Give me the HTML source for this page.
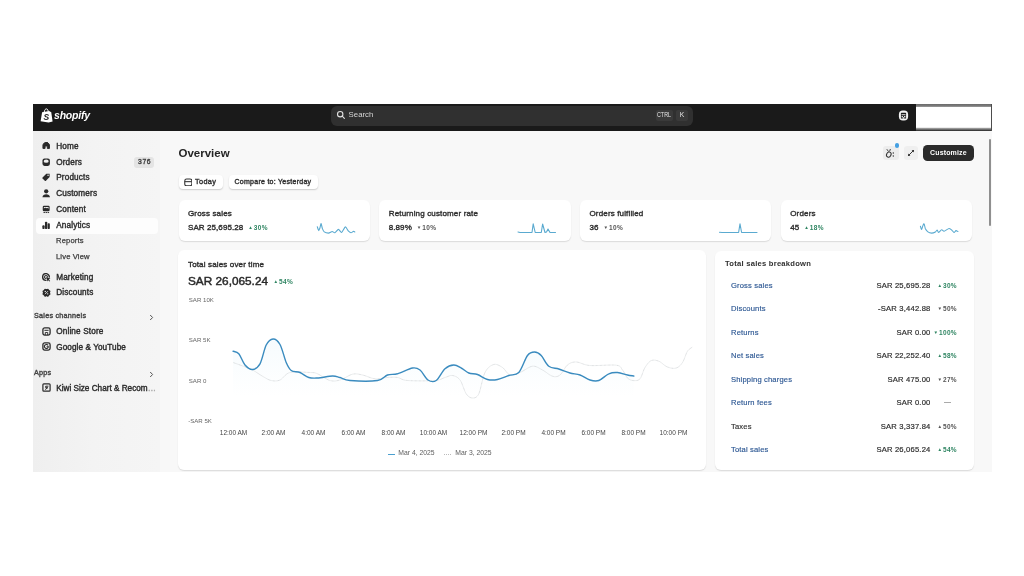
<!DOCTYPE html>
<html lang="en">
<head>
<meta charset="utf-8">
<title>Shopify Analytics Overview</title>
<style>
*{box-sizing:border-box;margin:0;padding:0}
html,body{width:1024px;height:576px;overflow:hidden;background:#fff}
body{font-family:"Liberation Sans",sans-serif;color:#303030;position:relative}
#app{position:absolute;left:33px;top:104px;width:959px;height:368px;background:#f8f8f8;overflow:hidden}
.abs{position:absolute}
.t{position:absolute;white-space:nowrap;line-height:1;font-size:8px;color:#303030;letter-spacing:.1px}
.sb{-webkit-text-stroke:.38px currentColor}
/* top bar */
#top{position:absolute;left:0;top:0;width:959px;height:27.3px;background:#1a1a1a}
#search{position:absolute;left:298px;top:1.7px;width:362px;height:20.8px;border-radius:6px;background:#303030}
.key{position:absolute;top:4.4px;height:11px;border-radius:2px;background:#3a3a3a}
#wbox{position:absolute;left:883px;top:0;width:76px;height:27px;background:linear-gradient(90deg,transparent 0,transparent 74.5px,#555 75px,#444 76px),linear-gradient(#6a6a6a 0,#808080 2.4px,#fff 3.2px,#fff 23.3px,#a0a0a0 24.3px,#555 26px,#222 27px)}
/* sidebar */
#side{position:absolute;left:0;top:27.3px;width:127px;height:340.7px;background:linear-gradient(90deg,#efefef 0,#f3f3f3 60px,#f5f5f5 127px)}
#sel{position:absolute;left:3px;top:86.5px;width:121.5px;height:16.5px;border-radius:4px;background:#fdfdfd}
.nav{left:23.2px;font-size:8.2px;letter-spacing:.15px;color:#2b2b2b}
.sub{left:23px;font-size:7.6px;color:#3c3c3c;-webkit-text-stroke:.25px #3c3c3c;letter-spacing:.15px}
.sec{left:1px;font-size:7.2px;color:#444;letter-spacing:.25px}
.ico{position:absolute;left:9.2px;width:8.4px;height:8.4px;}
/* main */
.card{position:absolute;background:#fff;border-radius:6px;box-shadow:0 1px 1.2px rgba(0,0,0,.12)}
.btn{position:absolute;background:#fff;border-radius:4px;box-shadow:0 1px 1.5px rgba(0,0,0,.18)}
.lbl{font-size:8px;letter-spacing:.15px;color:#303030}
.val{font-size:8px;letter-spacing:.08px;color:#303030}
.chg{font-size:6.5px;font-weight:700;letter-spacing:.35px}
.g{color:#2f8562}
.d{color:#555}
.ax{font-size:6.1px;color:#666;letter-spacing:0}
.lnk{font-size:7.6px;color:#2c5793;letter-spacing:.15px}
.rv{font-size:7.6px;color:#2e2e2e;letter-spacing:.2px;text-align:right;-webkit-text-stroke:.2px #2e2e2e}
</style>
</head>
<body>
<div id="app">

<!-- TOPBAR -->
<div id="top">
  <svg class="abs" style="left:7px;top:3.5px" width="13" height="16" viewBox="0 0 13 16">
    <path d="M2.1 4.3 L9.2 2.9 L10.2 3.8 L11.2 3.9 L12.6 13.6 L8.6 14.6 L0.6 13.2 Z" fill="#fff"/>
    <path d="M4.2 4.2 C4.4 1.9 5.6 .7 6.6 .9 C7.7 1.1 8.2 2.6 8.3 3.9" fill="none" stroke="#fff" stroke-width="1"/>
    <text x="3.6" y="11.6" font-family="Liberation Sans, sans-serif" font-size="8.5" font-weight="700" font-style="italic" fill="#1a1a1a">S</text>
  </svg>
  <div class="t" style="left:21px;top:6px;font-size:10.5px;font-weight:700;font-style:italic;color:#fff;letter-spacing:-.2px">shopify</div>
  <div id="search">
    <svg class="abs" style="left:5.4px;top:4.3px" width="10" height="10" viewBox="0 0 10 10"><circle cx="4.2" cy="4.2" r="2.7" fill="none" stroke="#e0e0e0" stroke-width="1.1"/><path d="M6.2 6.2 L8.4 8.4" stroke="#e0e0e0" stroke-width="1.1" stroke-linecap="round"/></svg>
    <div class="t" style="left:17.6px;top:5.7px;font-size:7.8px;color:#d6d6d6;letter-spacing:0">Search</div>
    <div class="key" style="left:325px;width:17px"></div>
    <div class="key" style="left:345px;width:12px"></div>
    <div class="t" style="left:326.2px;top:6.3px;font-size:6.7px;color:#e6e6e6;letter-spacing:0;transform:scaleX(.8);transform-origin:0 0">CTRL</div>
    <div class="t" style="left:348.8px;top:6.3px;font-size:6.7px;color:#e6e6e6;letter-spacing:0">K</div>
  </div>
  <svg class="abs" style="left:865px;top:6.4px" width="11" height="11" viewBox="0 0 11 11"><rect x=".9" y=".6" width="9.2" height="9.8" rx="4" fill="#f4f4f4"/><path d="M2.9 3.4 Q2.9 2.8 3.5 2.8 H7.5 Q8.1 2.8 8.1 3.4 V8.6 H2.9 Z" fill="#1a1a1a"/><rect x="3.5" y="4.3" width="4" height=".9" fill="#f4f4f4"/><rect x="3.6" y="6" width="1.3" height="1.4" fill="#f4f4f4"/><rect x="6.1" y="6" width="1.3" height="1.4" fill="#f4f4f4"/><rect x="4.9" y="7.2" width="1.2" height="1.4" fill="#f4f4f4"/></svg>
  <div id="wbox"></div>
</div>

<!-- SIDEBAR -->
<div id="side">
  <!--SIDE-->
  <div id="sel"></div>
  <svg class="ico" style="top:11.10px" viewBox="0 0 9 9"><path d="M4.5 .9 C5 .9 8 3 8 4.3 V8 H5.7 V6.2 C5.7 5 3.3 5 3.3 6.2 V8 H1 V4.3 C1 3 4 .9 4.5 .9 Z" fill="#2a2a2a" stroke="#2a2a2a" stroke-width="1" stroke-linejoin="round" transform="translate(0 -1.1)"/></svg>
  <div class="t sb nav" style="top:12.00px;">Home</div>
  <svg class="ico" style="top:26.35px" viewBox="0 0 9 9"><rect x=".5" y=".5" width="8" height="8" rx="2.2" fill="#2a2a2a"/><ellipse cx="4.5" cy="3.4" rx="2.7" ry="1.8" fill="#f0f0f0"/></svg>
  <div class="t sb nav" style="top:27.25px;">Orders</div>
  <svg class="ico" style="top:42.10px" viewBox="0 0 9 9"><path d="M4.6 .8 H8.2 V4.4 L4.2 8.4 Q3.6 8.9 3 8.4 L.6 6 Q.1 5.4 .6 4.8 Z" fill="#2a2a2a"/><circle cx="6.5" cy="2.5" r=".8" fill="#f0f0f0"/></svg>
  <div class="t sb nav" style="top:43.00px;">Products</div>
  <svg class="ico" style="top:58.10px" viewBox="0 0 9 9"><circle cx="4.5" cy="2.5" r="2.3" fill="#2a2a2a"/><path d="M.5 8.8 C.5 4.6 8.5 4.6 8.5 8.8 Z" fill="#2a2a2a"/></svg>
  <div class="t sb nav" style="top:59.00px;">Customers</div>
  <svg class="ico" style="top:73.85px" viewBox="0 0 9 9"><rect x=".8" y=".9" width="7.4" height="5.8" rx="1.3" fill="#2a2a2a"/><path d="M2 3.8 L3.4 2.6 L4.6 3.6 L5.6 2.9 L7 4 V2.2 H2 Z" fill="#f0f0f0"/><rect x="1.6" y="7.6" width="1.6" height="1" fill="#2a2a2a"/><rect x="3.8" y="7.6" width="1.6" height="1" fill="#2a2a2a"/><rect x="6" y="7.6" width="1.6" height="1" fill="#2a2a2a"/></svg>
  <div class="t sb nav" style="top:74.75px;">Content</div>
  <svg class="ico" style="top:89.35px" viewBox="0 0 9 9"><rect x=".4" y="4.6" width="2.4" height="4" rx=".9" fill="#2a2a2a"/><rect x="3.2" y=".8" width="2.4" height="7.8" rx=".9" fill="#2a2a2a"/><rect x="6" y="2.4" width="2.4" height="6.2" rx=".9" fill="#2a2a2a"/></svg>
  <div class="t sb nav" style="top:90.25px;">Analytics</div>
  <div class="t sub" style="top:106.20px">Reports</div>
  <div class="t sub" style="top:121.45px">Live View</div>
  <svg class="ico" style="top:141.85px" viewBox="0 0 9 9"><path d="M7.9 4.3 A3.6 3.6 0 1 0 4.3 7.9" fill="none" stroke="#2a2a2a" stroke-width="1.5" stroke-linecap="round"/><path d="M5.9 4.2 A1.6 1.6 0 1 0 4.2 5.9" fill="none" stroke="#2a2a2a" stroke-width="1.2" stroke-linecap="round"/><path d="M4.4 4.4 L9 6 L7.3 7 L8.8 8.6 L8 9.2 L6.7 7.7 L5.9 9.2 Z" fill="#2a2a2a"/></svg>
  <div class="t sb nav" style="top:142.75px;">Marketing</div>
  <svg class="ico" style="top:157.10px" viewBox="0 0 9 9"><g transform="translate(.3 .5)"><circle cx="4.5" cy="4.5" r="3.9" fill="#2a2a2a"/><circle cx="7.83" cy="5.88" r=".95" fill="#2a2a2a"/><circle cx="5.88" cy="7.83" r=".95" fill="#2a2a2a"/><circle cx="3.12" cy="7.83" r=".95" fill="#2a2a2a"/><circle cx="1.17" cy="5.88" r=".95" fill="#2a2a2a"/><circle cx="1.17" cy="3.12" r=".95" fill="#2a2a2a"/><circle cx="3.12" cy="1.17" r=".95" fill="#2a2a2a"/><circle cx="5.88" cy="1.17" r=".95" fill="#2a2a2a"/><circle cx="7.83" cy="3.12" r=".95" fill="#2a2a2a"/><path d="M3.2 5.8 L5.8 3.2" stroke="#f0f0f0" stroke-width=".9" stroke-linecap="round"/><circle cx="3.2" cy="3.3" r=".75" fill="#f0f0f0"/><circle cx="5.8" cy="5.8" r=".75" fill="#f0f0f0"/></g></svg>
  <div class="t sb nav" style="top:158.00px;">Discounts</div>
  <div class="t sb sec" style="top:181.00px">Sales channels</div>
  <svg class="abs" style="left:116px;top:182.60px" width="5" height="7" viewBox="0 0 5 7"><path d="M1.2 1 L3.6 3.5 L1.2 6" fill="none" stroke="#555" stroke-width="1"/></svg>
  <svg class="ico" style="top:195.35px;left:8.6px;width:9px;height:9px" viewBox="0 0 9 9"><rect x=".9" y=".9" width="7.2" height="7.2" rx="1.8" fill="none" stroke="#2a2a2a" stroke-width="1.3"/><path d="M2.4 3.3 H6.6" stroke="#2a2a2a" stroke-width="1"/><path d="M3.3 8 V5.5 H5.7 V8" fill="none" stroke="#2a2a2a" stroke-width=".9"/></svg>
  <div class="t sb nav" style="top:196.75px;">Online Store</div>
  <svg class="ico" style="top:210.85px;left:8.6px;width:9px;height:9px" viewBox="0 0 9 9"><rect x=".9" y=".9" width="7.2" height="7.2" rx="1.8" fill="none" stroke="#2a2a2a" stroke-width="1.3"/><path d="M6.1 3.4 A2 2 0 1 0 6.4 4.7 H4.6" fill="none" stroke="#2a2a2a" stroke-width="1.1"/></svg>
  <div class="t sb nav" style="top:212.25px;letter-spacing:.08px">Google &amp; YouTube</div>
  <div class="t sb sec" style="top:237.75px">Apps</div>
  <svg class="abs" style="left:116px;top:239.35px" width="5" height="7" viewBox="0 0 5 7"><path d="M1.2 1 L3.6 3.5 L1.2 6" fill="none" stroke="#555" stroke-width="1"/></svg>
  <svg class="ico" style="top:252.10px;left:8.6px;width:9px;height:9px" viewBox="0 0 9 9"><rect x=".9" y=".9" width="7.2" height="7.2" rx=".9" fill="none" stroke="#2a2a2a" stroke-width="1.2"/><path d="M6.4 3.2 H3.7 V4.7 H5.8 L3.2 6.5" fill="none" stroke="#2a2a2a" stroke-width="1"/></svg>
  <div class="t sb nav" style="top:253.50px;letter-spacing:0">Kiwi Size Chart &amp; Recom<span style="color:#aaa">…</span></div>
  <div class="abs" style="left:101px;top:25.3px;width:20px;height:11px;border-radius:3px;background:#e4e4e4"></div>
  <div class="t sb" style="left:105px;top:27.9px;font-size:6.8px;letter-spacing:.6px;color:#444">376</div>
  <!--/SIDE-->
</div>

<!-- MAIN -->
<div id="main">
  <!--MAIN-->
  <div class="t" style="left:145.5px;top:43.6px;font-size:11.5px;font-weight:700;letter-spacing:0;color:#252525">Overview</div>
  <div class="abs" style="left:850px;top:41.5px;width:16px;height:14.5px;border-radius:3px;background:#ededed"></div>
  <div class="abs" style="left:870.5px;top:41.5px;width:14.5px;height:14.5px;border-radius:3px;background:#efefef"></div>
  <svg class="abs" style="left:852px;top:43.5px" width="11" height="11" viewBox="0 0 11 11"><path d="M1.8 1.2 L3.6 3.6 M5.4 1 L4.6 3.4" stroke="#333" stroke-width=".9" fill="none"/><ellipse cx="3.8" cy="6.6" rx="2.2" ry="2.7" transform="rotate(25 3.8 6.6)" fill="none" stroke="#333" stroke-width="1"/><circle cx="8.3" cy="5" r=".7" fill="#333"/><circle cx="8.3" cy="8" r=".7" fill="#333"/></svg>
  <div class="abs" style="left:861.6px;top:39.2px;width:4.7px;height:4.7px;border-radius:50%;background:#45a0e2"></div>
  <svg class="abs" style="left:872.5px;top:43.5px" width="10" height="10" viewBox="0 0 10 10"><path d="M2.2 7.8 L7.8 2.2" stroke="#333" stroke-width="1"/><path d="M5.6 2 H8 V4.4 Z M2 5.6 V8 H4.4 Z" fill="#333"/></svg>
  <div class="abs" style="left:889.5px;top:41px;width:51.5px;height:15.5px;border-radius:4.5px;background:#2b2b2b"></div>
  <div class="t" style="left:897px;top:45.3px;font-size:7px;font-weight:700;color:#fff;letter-spacing:.15px">Customize</div>
  <div class="btn" style="left:145.5px;top:71.2px;width:44px;height:13.4px"></div>
  <svg class="abs" style="left:150.6px;top:73.6px" width="8.6" height="8.6" viewBox="0 0 8 8"><rect x=".7" y=".9" width="6.6" height="6.4" rx="1.8" fill="none" stroke="#333" stroke-width="1"/><path d="M.7 3.4 H7.3" stroke="#333" stroke-width="1"/></svg>
  <div class="t sb" style="left:162px;top:73.8px;font-size:7.3px;letter-spacing:.35px">Today</div>
  <div class="btn" style="left:196px;top:71.2px;width:88.5px;height:13.4px"></div>
  <div class="t sb" style="left:201.5px;top:73.8px;font-size:7px;letter-spacing:.27px">Compare to: Yesterday</div>
  <div class="card" style="left:145.5px;top:96px;width:191.25px;height:40.5px"></div>
  <div class="t sb lbl" style="left:155.0px;top:105.5px">Gross sales</div>
  <div class="t val" style="left:155.0px;top:119.5px"><span class="sb">SAR 25,695.28</span><span class="chg g" style="margin-left:5px"><span style="font-size:4.6px;vertical-align:.6px;margin-right:.6px">▲</span>30%</span></div>
  <div class="card" style="left:346.25px;top:96px;width:191.25px;height:40.5px"></div>
  <div class="t sb lbl" style="left:355.75px;top:105.5px">Returning customer rate</div>
  <div class="t val" style="left:355.75px;top:119.5px"><span class="sb">8.89%</span><span class="chg d" style="margin-left:5px"><span style="font-size:4.6px;vertical-align:.6px;margin-right:.6px">▼</span>10%</span></div>
  <div class="card" style="left:547px;top:96px;width:191.25px;height:40.5px"></div>
  <div class="t sb lbl" style="left:556.5px;top:105.5px">Orders fulfilled</div>
  <div class="t val" style="left:556.5px;top:119.5px"><span class="sb">36</span><span class="chg d" style="margin-left:5px"><span style="font-size:4.6px;vertical-align:.6px;margin-right:.6px">▼</span>10%</span></div>
  <div class="card" style="left:747.75px;top:96px;width:191.25px;height:40.5px"></div>
  <div class="t sb lbl" style="left:757.25px;top:105.5px">Orders</div>
  <div class="t val" style="left:757.25px;top:119.5px"><span class="sb">45</span><span class="chg g" style="margin-left:5px"><span style="font-size:4.6px;vertical-align:.6px;margin-right:.6px">▲</span>18%</span></div>
  <div class="card" style="left:145px;top:146px;width:527.6px;height:220px"></div>
  <div class="t sb lbl" style="left:155px;top:157px">Total sales over time</div>
  <div class="t" style="left:155px;top:171.5px;font-size:11.8px;letter-spacing:0;-webkit-text-stroke:.45px #2a2a2a;color:#2a2a2a">SAR 26,065.24</div>
  <div class="t chg g" style="left:240.5px;top:174.5px"><span style="font-size:4.6px;vertical-align:.6px;margin-right:.6px">▲</span>54%</div>
  <div class="t ax" style="left:155.8px;top:192.50px">SAR 10K</div>
  <div class="t ax" style="left:155.8px;top:232.50px">SAR 5K</div>
  <div class="t ax" style="left:155.8px;top:273.50px">SAR 0</div>
  <div class="t ax" style="left:155.2px;top:313.75px">-SAR 5K</div>
  <div class="t ax" style="left:170.5px;width:60px;text-align:center;top:325.70px;font-size:6.5px;color:#454545">12:00 AM</div>
  <div class="t ax" style="left:210.5px;width:60px;text-align:center;top:325.70px;font-size:6.5px;color:#454545">2:00 AM</div>
  <div class="t ax" style="left:250.5px;width:60px;text-align:center;top:325.70px;font-size:6.5px;color:#454545">4:00 AM</div>
  <div class="t ax" style="left:290.5px;width:60px;text-align:center;top:325.70px;font-size:6.5px;color:#454545">6:00 AM</div>
  <div class="t ax" style="left:330.5px;width:60px;text-align:center;top:325.70px;font-size:6.5px;color:#454545">8:00 AM</div>
  <div class="t ax" style="left:370.5px;width:60px;text-align:center;top:325.70px;font-size:6.5px;color:#454545">10:00 AM</div>
  <div class="t ax" style="left:410.5px;width:60px;text-align:center;top:325.70px;font-size:6.5px;color:#454545">12:00 PM</div>
  <div class="t ax" style="left:450.5px;width:60px;text-align:center;top:325.70px;font-size:6.5px;color:#454545">2:00 PM</div>
  <div class="t ax" style="left:490.5px;width:60px;text-align:center;top:325.70px;font-size:6.5px;color:#454545">4:00 PM</div>
  <div class="t ax" style="left:530.5px;width:60px;text-align:center;top:325.70px;font-size:6.5px;color:#454545">6:00 PM</div>
  <div class="t ax" style="left:570.5px;width:60px;text-align:center;top:325.70px;font-size:6.5px;color:#454545">8:00 PM</div>
  <div class="t ax" style="left:610.5px;width:60px;text-align:center;top:325.70px;font-size:6.5px;color:#454545">10:00 PM</div>
  <div class="abs" style="left:354.8px;top:349.5px;width:7px;height:1.3px;background:#4b9fcf"></div>
  <div class="t ax" style="left:365.3px;top:346.2px;font-size:6.8px;color:#606060">Mar 4, 2025</div>
  <div class="abs" style="left:411.4px;top:349.6px;width:7px;height:0;border-top:1px dotted #bbb"></div>
  <div class="t ax" style="left:422.3px;top:346.2px;font-size:6.8px;color:#606060">Mar 3, 2025</div>
  <div class="card" style="left:682px;top:146.5px;width:258.75px;height:219.5px"></div>
  <div class="t lbl" style="left:692px;top:156.4px;font-weight:700;font-size:7.6px;letter-spacing:.25px">Total sales breakdown</div>
  <div class="t lnk" style="left:698px;top:177.50px;-webkit-text-stroke:.15px currentColor">Gross sales</div>
  <div class="t rv" style="left:797.5px;width:100px;top:177.50px">SAR 25,695.28</div>
  <div class="t chg g" style="left:874px;width:50px;text-align:right;top:178.50px"><span style="font-size:4.6px;vertical-align:.6px;margin-right:.6px">▲</span>30%</div>
  <div class="t lnk" style="left:698px;top:201.00px;-webkit-text-stroke:.15px currentColor">Discounts</div>
  <div class="t rv" style="left:797.5px;width:100px;top:201.00px">-SAR 3,442.88</div>
  <div class="t chg d" style="left:874px;width:50px;text-align:right;top:202.00px"><span style="font-size:4.6px;vertical-align:.6px;margin-right:.6px">▼</span>50%</div>
  <div class="t lnk" style="left:698px;top:224.50px;-webkit-text-stroke:.15px currentColor">Returns</div>
  <div class="t rv" style="left:797.5px;width:100px;top:224.50px">SAR 0.00</div>
  <div class="t chg g" style="left:874px;width:50px;text-align:right;top:225.50px"><span style="font-size:4.6px;vertical-align:.6px;margin-right:.6px">▼</span>100%</div>
  <div class="t lnk" style="left:698px;top:248.00px;-webkit-text-stroke:.15px currentColor">Net sales</div>
  <div class="t rv" style="left:797.5px;width:100px;top:248.00px">SAR 22,252.40</div>
  <div class="t chg g" style="left:874px;width:50px;text-align:right;top:249.00px"><span style="font-size:4.6px;vertical-align:.6px;margin-right:.6px">▲</span>58%</div>
  <div class="t lnk" style="left:698px;top:271.50px;-webkit-text-stroke:.15px currentColor">Shipping charges</div>
  <div class="t rv" style="left:797.5px;width:100px;top:271.50px">SAR 475.00</div>
  <div class="t chg d" style="left:874px;width:50px;text-align:right;top:272.50px"><span style="font-size:4.6px;vertical-align:.6px;margin-right:.6px">▼</span>27%</div>
  <div class="t lnk" style="left:698px;top:294.50px;-webkit-text-stroke:.15px currentColor">Return fees</div>
  <div class="t rv" style="left:797.5px;width:100px;top:294.50px">SAR 0.00</div>
  <div class="abs" style="left:911px;top:297.70px;width:6.5px;height:1px;background:#aaa"></div>
  <div class="t lnk" style="left:698px;top:318.50px;color:#303030;-webkit-text-stroke:.15px currentColor">Taxes</div>
  <div class="t rv" style="left:797.5px;width:100px;top:318.50px">SAR 3,337.84</div>
  <div class="t chg d" style="left:874px;width:50px;text-align:right;top:319.50px"><span style="font-size:4.6px;vertical-align:.6px;margin-right:.6px">▲</span>50%</div>
  <div class="t lnk" style="left:698px;top:341.50px;-webkit-text-stroke:.15px currentColor">Total sales</div>
  <div class="t rv" style="left:797.5px;width:100px;top:341.50px">SAR 26,065.24</div>
  <div class="t chg g" style="left:874px;width:50px;text-align:right;top:342.50px"><span style="font-size:4.6px;vertical-align:.6px;margin-right:.6px">▲</span>54%</div>
  <svg class="abs" style="left:0;top:0" width="959" height="368" viewBox="33 104 959 368"><defs><linearGradient id="ga" x1="0" y1="0" x2="0" y2="1"><stop offset="0" stop-color="#bfe3f5" stop-opacity=".14"/><stop offset="1" stop-color="#bfe3f5" stop-opacity="0"/></linearGradient></defs><path d="M233.0 351.2C234.0 351.7 236.8 351.5 238.8 353.8C240.8 356.0 242.7 362.4 245.0 365.0C247.3 367.6 250.0 369.7 252.5 369.5C255.0 369.3 257.7 367.8 260.0 363.8C262.3 359.7 264.1 349.1 266.2 345.0C268.4 340.9 270.7 339.1 273.0 339.0C275.3 338.9 277.8 340.6 280.0 344.5C282.2 348.4 284.4 358.2 286.2 362.5C288.1 366.8 289.0 368.8 291.2 370.5C293.5 372.2 297.1 371.3 300.0 372.5C302.9 373.7 305.8 376.6 308.8 377.5C311.7 378.4 313.5 378.2 317.5 378.0C321.5 377.8 328.8 376.1 332.5 376.0C336.2 375.9 337.1 376.8 340.0 377.5C342.9 378.2 343.8 380.0 350.0 380.5C356.2 381.0 371.2 381.4 377.5 380.5C383.8 379.6 384.2 376.1 387.5 375.0C390.8 373.9 393.3 374.9 397.5 373.8C401.7 372.6 408.8 368.6 412.5 368.0C416.2 367.4 417.4 368.0 420.0 370.0C422.6 372.0 425.3 378.2 428.0 380.0C430.7 381.8 433.4 382.4 436.2 380.5C439.1 378.6 442.1 371.3 445.0 368.8C447.9 366.2 451.0 365.1 453.8 365.0C456.5 364.9 458.8 366.7 461.2 368.0C463.8 369.3 466.0 371.9 468.8 373.0C471.5 374.1 474.4 373.4 477.5 374.5C480.6 375.6 484.2 378.7 487.5 379.5C490.8 380.3 494.0 380.2 497.5 379.5C501.0 378.8 505.2 376.7 508.8 375.5C512.3 374.3 515.6 375.8 518.8 372.5C521.9 369.2 524.9 358.9 527.5 355.5C530.1 352.1 532.2 352.0 534.5 352.0C536.8 352.0 538.9 353.1 541.2 355.5C543.6 357.9 545.8 364.0 548.8 366.2C551.7 368.5 555.2 367.9 558.8 369.0C562.3 370.1 566.5 372.0 570.0 373.0C573.5 374.0 576.7 373.8 580.0 375.0C583.3 376.2 586.9 379.1 590.0 380.0C593.1 380.9 595.6 381.5 598.8 380.5C601.9 379.5 605.6 375.1 608.8 373.8C611.9 372.4 614.4 372.3 617.5 372.5C620.6 372.7 624.8 374.4 627.5 375.0C630.2 375.6 632.7 375.8 633.8 376.0L633.75 396 L233 396Z" fill="url(#ga)"/><path d="M233.0 362.5C234.2 362.9 236.8 363.8 240.0 365.0C243.2 366.2 248.8 368.1 252.5 370.0C256.2 371.9 259.4 374.5 262.5 376.2C265.6 378.0 268.3 379.9 271.2 380.5C274.2 381.1 276.9 381.3 280.0 380.0C283.1 378.7 285.0 373.8 290.0 372.5C295.0 371.2 305.4 372.3 310.0 372.5C314.6 372.7 314.2 372.4 317.5 373.8C320.8 375.1 326.2 379.5 330.0 380.5C333.8 381.5 336.2 381.0 340.0 380.0C343.8 379.0 348.8 375.1 352.5 374.2C356.2 373.4 358.8 374.2 362.5 375.0C366.2 375.8 370.8 378.3 375.0 378.8C379.2 379.2 383.8 377.7 387.5 377.5C391.2 377.3 394.2 377.0 397.5 377.5C400.8 378.0 401.2 380.0 407.5 380.5C413.8 381.0 428.8 381.0 435.0 380.5C441.2 380.0 442.1 378.3 445.0 377.5C447.9 376.7 450.0 375.1 452.5 375.5C455.0 375.9 457.7 377.0 460.0 380.0C462.3 383.0 464.2 390.8 466.2 393.8C468.3 396.8 470.4 398.0 472.5 398.0C474.6 398.0 476.7 398.0 478.8 393.8C480.8 389.5 482.5 377.4 485.0 372.5C487.5 367.6 490.8 365.3 493.8 364.5C496.7 363.7 499.8 365.8 502.5 367.5C505.2 369.2 507.1 374.2 510.0 375.0C512.9 375.8 516.2 374.0 520.0 372.5C523.8 371.0 528.8 366.7 532.5 366.2C536.2 365.8 539.2 368.3 542.5 370.0C545.8 371.7 549.6 375.4 552.5 376.2C555.4 377.1 557.5 376.9 560.0 375.0C562.5 373.1 564.8 367.2 567.5 365.0C570.2 362.8 572.5 361.9 576.2 362.0C580.0 362.1 583.3 365.0 590.0 365.5C596.7 366.0 610.8 364.5 616.2 365.2C621.7 366.0 620.6 367.9 622.5 370.0C624.4 372.1 625.6 376.2 627.5 378.0C629.4 379.8 631.7 380.5 633.8 380.6C635.8 380.7 638.1 380.9 640.0 378.8C641.9 376.6 643.1 370.5 645.0 367.5C646.9 364.5 649.0 361.6 651.2 360.6C653.5 359.6 656.0 360.2 658.8 361.2C661.5 362.3 664.6 365.9 667.5 367.0C670.4 368.1 673.8 368.8 676.2 368.0C678.8 367.2 680.6 365.3 682.5 362.5C684.4 359.7 685.8 353.8 687.5 351.2C689.2 348.7 691.7 347.7 692.5 347.0" fill="none" stroke="#d3d6d8" stroke-width=".9" stroke-dasharray=".8 .5"/><path d="M233.0 351.2C234.0 351.7 236.8 351.5 238.8 353.8C240.8 356.0 242.7 362.4 245.0 365.0C247.3 367.6 250.0 369.7 252.5 369.5C255.0 369.3 257.7 367.8 260.0 363.8C262.3 359.7 264.1 349.1 266.2 345.0C268.4 340.9 270.7 339.1 273.0 339.0C275.3 338.9 277.8 340.6 280.0 344.5C282.2 348.4 284.4 358.2 286.2 362.5C288.1 366.8 289.0 368.8 291.2 370.5C293.5 372.2 297.1 371.3 300.0 372.5C302.9 373.7 305.8 376.6 308.8 377.5C311.7 378.4 313.5 378.2 317.5 378.0C321.5 377.8 328.8 376.1 332.5 376.0C336.2 375.9 337.1 376.8 340.0 377.5C342.9 378.2 343.8 380.0 350.0 380.5C356.2 381.0 371.2 381.4 377.5 380.5C383.8 379.6 384.2 376.1 387.5 375.0C390.8 373.9 393.3 374.9 397.5 373.8C401.7 372.6 408.8 368.6 412.5 368.0C416.2 367.4 417.4 368.0 420.0 370.0C422.6 372.0 425.3 378.2 428.0 380.0C430.7 381.8 433.4 382.4 436.2 380.5C439.1 378.6 442.1 371.3 445.0 368.8C447.9 366.2 451.0 365.1 453.8 365.0C456.5 364.9 458.8 366.7 461.2 368.0C463.8 369.3 466.0 371.9 468.8 373.0C471.5 374.1 474.4 373.4 477.5 374.5C480.6 375.6 484.2 378.7 487.5 379.5C490.8 380.3 494.0 380.2 497.5 379.5C501.0 378.8 505.2 376.7 508.8 375.5C512.3 374.3 515.6 375.8 518.8 372.5C521.9 369.2 524.9 358.9 527.5 355.5C530.1 352.1 532.2 352.0 534.5 352.0C536.8 352.0 538.9 353.1 541.2 355.5C543.6 357.9 545.8 364.0 548.8 366.2C551.7 368.5 555.2 367.9 558.8 369.0C562.3 370.1 566.5 372.0 570.0 373.0C573.5 374.0 576.7 373.8 580.0 375.0C583.3 376.2 586.9 379.1 590.0 380.0C593.1 380.9 595.6 381.5 598.8 380.5C601.9 379.5 605.6 375.1 608.8 373.8C611.9 372.4 614.4 372.3 617.5 372.5C620.6 372.7 624.8 374.4 627.5 375.0C630.2 375.6 632.7 375.8 633.8 376.0" fill="none" stroke="#3a8bbf" stroke-width="1.4" stroke-linecap="round" stroke-linejoin="round"/><path d="M317.3 226.8C317.5 227.2 318.4 230.5 318.7 230.6C319.0 230.7 319.6 228.8 319.9 228.0C320.2 227.2 320.8 223.5 321.1 223.6C321.4 223.7 322.0 227.6 322.4 228.6C322.8 229.6 323.6 231.4 324.3 231.9C325.0 232.4 327.6 233.1 328.5 233.1C329.4 233.1 331.5 231.5 332.2 231.5C333.0 231.5 334.0 233.0 334.8 232.8C335.5 232.5 337.7 229.4 338.5 229.4C339.3 229.4 340.8 232.8 341.6 232.5C342.4 232.2 344.6 227.0 345.4 226.9C346.2 226.8 347.8 230.6 348.5 231.2C349.2 231.9 350.4 232.8 351.0 232.8C351.6 232.8 353.1 231.3 353.5 231.2C353.9 231.2 354.6 231.8 354.8 231.9" fill="none" stroke="#5aaad0" stroke-width="1.1" stroke-linejoin="round" stroke-linecap="round"/><path d="M920.4 226.2C920.5 226.6 921.3 229.5 921.6 229.4C921.9 229.3 922.6 226.3 922.9 225.6C923.2 224.9 923.8 223.4 924.1 223.8C924.4 224.1 925.0 227.8 925.4 228.8C925.8 229.7 927.2 231.4 927.9 231.9C928.6 232.4 930.7 233.1 931.6 233.1C932.5 233.1 934.7 232.3 935.4 231.9C936.1 231.5 936.9 229.9 937.2 230.0C937.6 230.1 938.0 232.5 938.5 232.5C939.0 232.5 940.9 229.9 941.6 229.8C942.3 229.6 943.2 231.4 944.1 231.2C945.0 231.1 948.1 228.6 949.1 228.5C950.1 228.4 951.7 230.1 952.2 230.6C952.8 231.1 953.7 232.5 954.1 232.5C954.5 232.5 955.6 230.7 956.0 230.6C956.4 230.5 957.7 231.4 957.9 231.5" fill="none" stroke="#5aaad0" stroke-width="1.1" stroke-linejoin="round" stroke-linecap="round"/><path d="M518 232 L520 232.5 H532 L533.2 223.8 L535.2 232.5 H541.3 L542.6 224 L545 232.5 L546.5 232 L548 229 L550 232.5 H555.5" fill="none" stroke="#5aaad0" stroke-width="1.1" stroke-linejoin="round" stroke-linecap="round"/><path d="M719.5 232.3 L722 232.5 H738.6 L740 223.8 L741.6 232.5 H757" fill="none" stroke="#5aaad0" stroke-width="1.1" stroke-linejoin="round" stroke-linecap="round"/></svg>
  <!--/MAIN-->
</div>

<!-- scrollbar -->
<div class="abs" style="left:955.6px;top:34.6px;width:2.6px;height:87px;background:#8f8f8f;border-radius:1px"></div>
</div>
</body>
</html>
